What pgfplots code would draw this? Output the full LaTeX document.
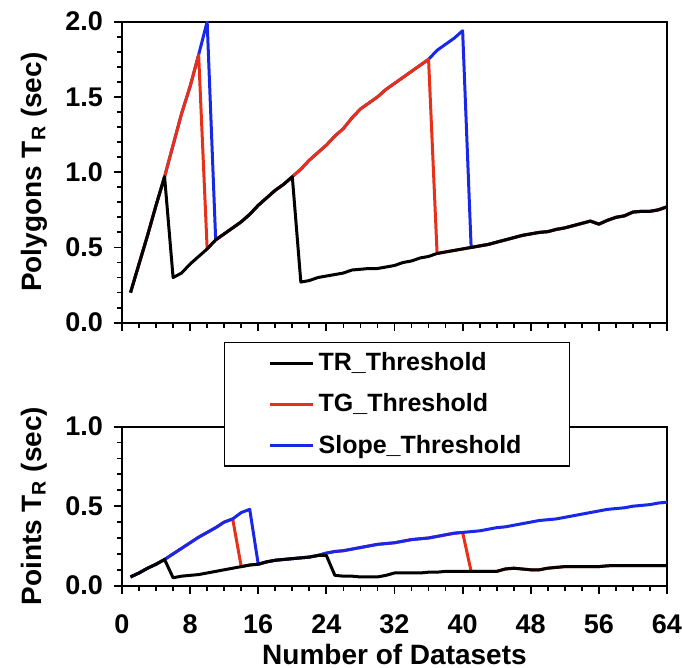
\documentclass[border=0pt]{standalone}
\usepackage{fontspec}
\setmainfont{Liberation Sans}
\usepackage{pgfplots}
\usepackage{pgfplotstable}
\pgfplotsset{compat=1.18}
\definecolor{tgred}{RGB}{232,48,24}
\definecolor{slblue}{RGB}{24,40,232}

% Polygons: x tr tg slope
\pgfplotstableread{
x tr tg sl
1 0.20 0.20 0.20
2 0.39 0.39 0.39
3 0.58 0.58 0.58
4 0.78 0.78 0.78
5 0.97 0.97 0.97
6 0.30 1.18 1.18
7 0.33 1.39 1.39
8 0.39 1.57 1.57
9 0.44 1.78 1.78
10 0.49 0.49 2.00
11 0.55 0.55 0.55
12 0.59 0.59 0.59
13 0.63 0.63 0.63
14 0.67 0.67 0.67
15 0.72 0.72 0.72
16 0.78 0.78 0.78
17 0.83 0.83 0.83
18 0.88 0.88 0.88
19 0.92 0.92 0.92
20 0.97 0.97 0.97
21 0.27 1.02 1.02
22 0.28 1.08 1.08
23 0.30 1.13 1.13
24 0.31 1.18 1.18
25 0.32 1.24 1.24
26 0.33 1.29 1.29
27 0.35 1.36 1.36
28 0.355 1.42 1.42
29 0.36 1.46 1.46
30 0.36 1.50 1.50
31 0.37 1.55 1.55
32 0.38 1.59 1.59
33 0.40 1.63 1.63
34 0.41 1.67 1.67
35 0.43 1.71 1.71
36 0.44 1.75 1.75
37 0.46 0.46 1.81
38 0.47 0.47 1.85
39 0.48 0.48 1.89
40 0.49 0.49 1.94
41 0.50 0.50 0.50
42 0.51 0.51 0.51
43 0.52 0.52 0.52
44 0.535 0.535 0.535
45 0.55 0.55 0.55
46 0.565 0.565 0.565
47 0.58 0.58 0.58
48 0.59 0.59 0.59
49 0.60 0.60 0.60
50 0.605 0.605 0.605
51 0.62 0.62 0.62
52 0.63 0.63 0.63
53 0.645 0.645 0.645
54 0.66 0.66 0.66
55 0.675 0.675 0.675
56 0.655 0.655 0.655
57 0.68 0.68 0.68
58 0.70 0.70 0.70
59 0.71 0.71 0.71
60 0.735 0.735 0.735
61 0.74 0.74 0.74
62 0.74 0.74 0.74
63 0.75 0.75 0.75
64 0.77 0.77 0.77
}\polytab

% Points: x tr tg slope
\pgfplotstableread{
x tr tg sl
1 0.055 0.055 0.055
2 0.08 0.08 0.08
3 0.11 0.11 0.11
4 0.135 0.135 0.135
5 0.165 0.165 0.165
6 0.05 0.20 0.20
7 0.06 0.235 0.235
8 0.065 0.27 0.27
9 0.07 0.305 0.305
10 0.08 0.335 0.335
11 0.09 0.365 0.365
12 0.10 0.40 0.40
13 0.11 0.42 0.42
14 0.12 0.12 0.46
15 0.13 0.13 0.48
16 0.135 0.135 0.135
17 0.15 0.15 0.15
18 0.16 0.16 0.16
19 0.165 0.165 0.165
20 0.17 0.17 0.17
21 0.175 0.175 0.175
22 0.18 0.18 0.18
23 0.19 0.19 0.19
24 0.19 0.205 0.205
25 0.065 0.215 0.215
26 0.06 0.22 0.22
27 0.06 0.23 0.23
28 0.055 0.24 0.24
29 0.055 0.25 0.25
30 0.055 0.26 0.26
31 0.065 0.265 0.265
32 0.08 0.27 0.27
33 0.08 0.28 0.28
34 0.08 0.29 0.29
35 0.08 0.295 0.295
36 0.085 0.30 0.30
37 0.085 0.31 0.31
38 0.09 0.32 0.32
39 0.09 0.33 0.33
40 0.09 0.335 0.335
41 0.09 0.09 0.34
42 0.09 0.09 0.345
43 0.09 0.09 0.355
44 0.09 0.09 0.365
45 0.105 0.105 0.37
46 0.11 0.11 0.38
47 0.105 0.105 0.39
48 0.10 0.10 0.40
49 0.10 0.10 0.41
50 0.11 0.11 0.415
51 0.115 0.115 0.42
52 0.12 0.12 0.43
53 0.12 0.12 0.44
54 0.12 0.12 0.45
55 0.12 0.12 0.46
56 0.12 0.12 0.47
57 0.125 0.125 0.48
58 0.127 0.127 0.485
59 0.127 0.127 0.49
60 0.127 0.127 0.50
61 0.127 0.127 0.505
62 0.127 0.127 0.51
63 0.127 0.127 0.52
64 0.127 0.127 0.525
}\pointtab

\pgfplotsset{panel/.style={
  scale only axis, width=272.5pt,
  xmin=0, xmax=64, xtick={0,8,...,64}, minor x tick num=3,
  ymin=0, minor y tick num=4,
  axis line style={line width=1pt},
  tick align=outside, xtick pos=bottom, ytick pos=left,
  major tick length=4pt, minor tick length=2.5pt,
  every tick/.style={black, line width=0.9pt},
  /pgf/number format/assume math mode=true,
  tick label style={font=\fontsize{13.5}{16}\selectfont\bfseries},
  x tick label style={yshift=-7pt},
  y tick label style={xshift=-2pt, /pgf/number format/.cd, fixed, fixed zerofill, precision=1, /tikz/.cd},
  label style={font=\fontsize{14}{17}\selectfont\bfseries},
  ylabel style={at={(axis description cs:-0.1615,0.5)}, anchor=center},
  every axis plot/.append style={line width=1.5pt, line join=round},
}}

\begin{document}
\begin{tikzpicture}
\useasboundingbox (-61pt,-172.65pt) rectangle (280pt,161.35pt);

\begin{axis}[panel, at={(0,0)}, anchor=south west,
  height=150.5pt, ymax=2, ytick={0,0.5,...,2}, xticklabels={},
  ylabel={Polygons T\textsubscript{R} (sec)}]
\addplot[slblue] table[x=x,y=sl] {\polytab};
\addplot[tgred] table[x=x,y=tg] {\polytab};
\addplot[black] table[x=x,y=tr] {\polytab};
\end{axis}

\begin{axis}[panel, at={(0,-131.5pt)}, anchor=south west,
  height=79.5pt, ymax=1, ytick={0,0.5,1},
  xlabel={Number of Datasets},
  xlabel style={at={(axis description cs:0.5,-0.434)}, anchor=center},
  ylabel={Points T\textsubscript{R} (sec)},
  legend style={at={(axis description cs:0.187,1.533)}, anchor=north west,
    draw=black, line width=0.75pt, fill=white, inner xsep=22pt, inner ysep=3pt,
    font=\fontsize{12.5}{15}\selectfont\bfseries, row sep=6pt, cells={anchor=west}},
  legend image code/.code={\draw[#1,line width=1.5pt] (0pt,0pt) -- (21.5pt,0pt);}]
\addlegendimage{black}\addlegendentry{TR\_Threshold}
\addlegendimage{tgred}\addlegendentry{TG\_Threshold}
\addlegendimage{slblue}\addlegendentry{Slope\_Threshold}
\addplot[tgred, forget plot] table[x=x,y=tg] {\pointtab};
\addplot[slblue, forget plot] table[x=x,y=sl] {\pointtab};
\addplot[black, forget plot] table[x=x,y=tr] {\pointtab};
\end{axis}
\end{tikzpicture}
\end{document}
